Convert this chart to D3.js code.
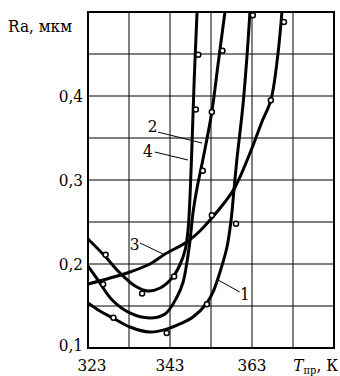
<!DOCTYPE html>
<html><head><meta charset="utf-8">
<script src="https://cdn.jsdelivr.net/npm/d3@7"></script>
<style>
html,body{margin:0;padding:0;background:#fff;}
svg{display:block;}
svg text{font-stretch:condensed;}
</style></head>
<body><svg id="c" width="340" height="376"></svg>
<script>
// ---- data ----
const tempTicks = [323, 343, 363];
const raTicks = [0.1, 0.2, 0.3, 0.4];
const raTickLabels = ["0,1", "0,2", "0,3", "0,4"];
const tempGrid = [323, 333, 343, 353, 363, 373, 383];
const raGrid = [0.1, 0.15, 0.2, 0.25, 0.3, 0.35, 0.4, 0.45, 0.5];

const curve1 = [[323,0.1536],[325.9,0.144],[329.1,0.1357],[333.2,0.125],[338.1,0.119],[342.3,0.1226],[345.4,0.1286],[348.6,0.1369],[352.0,0.1536],[353.5,0.1667],[355.2,0.1905],[356.9,0.2202],[357.9,0.2524],[358.6,0.2881],[359.3,0.3238],[360.8,0.3893],[361.8,0.4488],[362.5,0.5]];
const curve2 = [[323,0.1976],[325.4,0.181],[328.9,0.1571],[333.2,0.1417],[338.1,0.1357],[341.8,0.1405],[344.7,0.1607],[346.2,0.1786],[347.1,0.2012],[347.9,0.2286],[348.6,0.2607],[349.6,0.2905],[351.0,0.3238],[353.2,0.381],[354.7,0.4369],[356.4,0.5]];
const curve3 = [[323,0.1762],[328.4,0.1833],[333.2,0.1905],[338.1,0.2],[341.8,0.2119],[347.1,0.2262],[350.3,0.2393],[353.2,0.2548],[356.2,0.2726],[358.9,0.2917],[363.0,0.338],[365.4,0.369],[367.6,0.3952],[369.3,0.4488],[370.3,0.5]];
const curve4 = [[323,0.2298],[327.1,0.2095],[330.8,0.1893],[334.5,0.1738],[337.6,0.1679],[340.6,0.1714],[343.5,0.1833],[345.4,0.1988],[346.7,0.2167],[347.4,0.2405],[347.9,0.2821],[348.4,0.3476],[348.9,0.419],[349.6,0.5]];

const points1 = [[329.2,0.136],[342.2,0.118],[352.0,0.152],[359.1,0.248],[363.2,0.496]];
const points2 = [[326.7,0.176],[351.0,0.311],[353.2,0.381],[355.8,0.454]];
const points3 = [[353.2,0.258],[367.6,0.395],[370.8,0.488]];
const points4 = [[327.3,0.211],[336.2,0.165],[344.0,0.185],[349.3,0.384],[349.9,0.449]];

const curveLabels = ["1", "2", "3", "4"];
const labelAt = [[360.1,0.157],[337.6,0.357],[333.2,0.2167],[336.4,0.327]];
const leaderFrom = [[354.7,0.181],[350.8,0.344],[341.8,0.2107],[347.4,0.3238]];
const leaderTo = [[360.0,0.1667],[340.1,0.357],[335.7,0.225],[339.3,0.3333]];

// ---- drawing ----
const FONT = "'DejaVu Serif Condensed', 'DejaVu Serif', 'Liberation Serif', serif";
const svg = d3.select("#c").attr("font-family", FONT);
const L = 88, R = 334, T = 12, B = 348;
const x = d3.scaleLinear().domain([323, 383]).range([L, R]);
const y = d3.scaleLinear().domain([0.1, 0.5]).range([B, T]);

svg.append("defs").append("clipPath").attr("id","clip")
  .append("rect").attr("x",L).attr("y",T).attr("width",R-L).attr("height",B-T);

// grid
svg.append("g").selectAll("line").data(tempGrid).join("line")
  .attr("x1",d=>x(d)).attr("x2",d=>x(d)).attr("y1",T).attr("y2",B)
  .attr("stroke","#000").attr("stroke-width",1);
svg.append("g").selectAll("line").data(raGrid).join("line")
  .attr("x1",L).attr("x2",R).attr("y1",d=>y(d)).attr("y2",d=>y(d))
  .attr("stroke","#000").attr("stroke-width",1);

// frame
svg.append("rect").attr("x",L).attr("y",T).attr("width",R-L).attr("height",B-T)
  .attr("fill","none").attr("stroke","#000").attr("stroke-width",2);

// curves
const line = d3.line().x(d=>x(d[0])).y(d=>y(d[1])).curve(d3.curveCatmullRom.alpha(0.5));
const gC = svg.append("g").attr("clip-path","url(#clip)");
[curve1, curve2, curve3, curve4].forEach(c => {
  gC.append("path").attr("d", line(c)).attr("fill","none")
    .attr("stroke","#000").attr("stroke-width",3).attr("stroke-linejoin","round");
});

// points
[points1, points2, points3, points4].forEach(p => {
  svg.append("g").selectAll("circle").data(p).join("circle")
    .attr("cx",d=>x(d[0])).attr("cy",d=>y(d[1])).attr("r",2.5)
    .attr("fill","#fff").attr("stroke","#000").attr("stroke-width",1.5);
});

// leaders & labels
curveLabels.forEach((lab,i) => {
  svg.append("line")
    .attr("x1",x(leaderFrom[i][0])).attr("y1",y(leaderFrom[i][1]))
    .attr("x2",x(leaderTo[i][0])).attr("y2",y(leaderTo[i][1]))
    .attr("stroke","#000").attr("stroke-width",1);
  svg.append("text").attr("x",x(labelAt[i][0])).attr("y",y(labelAt[i][1]))
    .attr("font-size",17).attr("fill","#000").text(lab);
});

// y tick labels
svg.append("g").selectAll("text").data(raTicks).join("text")
  .attr("x",83).attr("y",d=>y(d)).attr("dy",(d,i)=> i===0 ? "0.15em" : "0.35em")
  .attr("text-anchor","end").attr("font-size",17).attr("fill","#000")
  .text((d,i)=>raTickLabels[i]);

// x tick labels
svg.append("g").selectAll("text").data(tempTicks).join("text")
  .attr("x",(d,i)=>x(d) + (i===0 ? 4 : 0)).attr("y",371)
  .attr("text-anchor","middle").attr("font-size",17).attr("fill","#000")
  .text(d=>d);

// axis titles
svg.append("text").attr("x",8).attr("y",32).attr("font-size",17).attr("fill","#000").text("Ra, мкм");
const xt = svg.append("text").attr("x",338).attr("y",371).attr("text-anchor","end")
  .attr("font-size",17).attr("fill","#000");
xt.append("tspan").attr("font-style","italic").text("T");
xt.append("tspan").attr("font-size",11).attr("dy",3).text("пр");
xt.append("tspan").attr("dy",-3).text(", К");
</script></body></html>
